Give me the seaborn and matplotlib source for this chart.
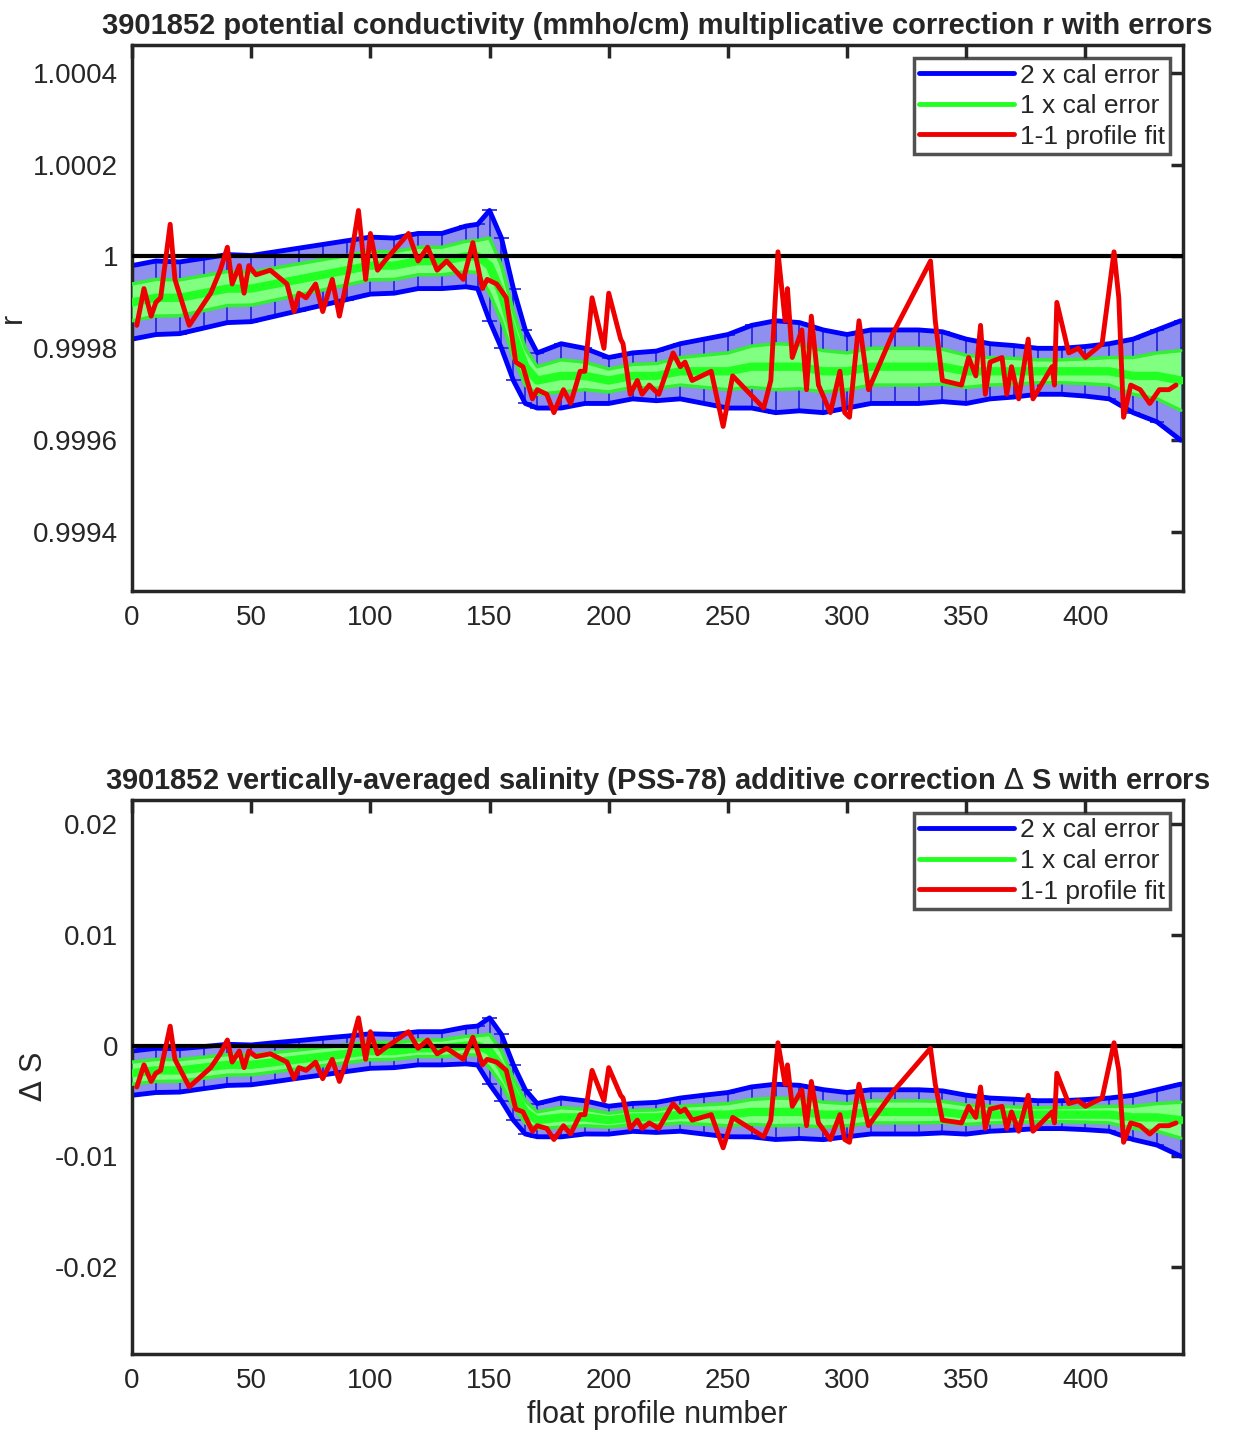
import numpy as np
import pandas as pd
import seaborn as sns
import matplotlib
matplotlib.use("Agg")
import matplotlib.pyplot as plt
from matplotlib.lines import Line2D

prof_fit = [2,5,8,10,12,16,18,24,33,37,40,42,45,47,49,52,58,65,68,70,73,77,80,84,87,91,95,98,100,103,106,111,116,120,124,128,132,139,143,147,149,153,157,161,164,168,170,174,177,181,184,188,190,193,198,200,205,206,209,212,214,217,221,227,230,232,235,243,248,252,265,268,271,274,275,277,281,283,285,288,293,297,299,301,305,309,319,335,337,340,348,351,354,356,358,360,365,367,369,372,376,378,386,387,388,393,397,400,407,412,414,416,419,423,427,431,435,438]
r_fit = [.99985,.99993,.99987,.9999,.99991,1.00007,.99995,.99985,.99992,.99997,1.00002,.99994,.99998,.99992,.99998,.99996,.99997,.99994,.99988,.99992,.99991,.99994,.99988,.99995,.99987,.99997,1.0001,.99995,1.00005,.99997,.99999,1.00002,1.00005,.99999,1.00002,.99997,.99999,.99995,1.00003,.99993,.99995,.99994,.99991,.99977,.99976,.99969,.99971,.9997,.99966,.99971,.99968,.99975,.99975,.99991,.9998,.99992,.99982,.99981,.9997,.99973,.9997,.99972,.9997,.99979,.99976,.99977,.99973,.99975,.99963,.99974,.99967,.99973,1.00001,.99986,.99993,.99978,.99984,.99971,.99987,.99972,.99966,.99975,.99966,.99965,.99986,.99971,.99983,.99999,.99986,.99973,.99972,.99978,.99974,.99985,.9997,.99977,.99978,.9997,.99976,.99969,.99982,.99969,.99976,.99972,.9999,.99979,.9998,.99978,.99981,1.00001,.99991,.99965,.99972,.99971,.99968,.99971,.99971,.99972]
ds_fit = [-.00375,-.00175,-.00325,-.0025,-.00225,.00175,-.00125,-.00375,-.002,-.00075,.0005,-.0015,-.0005,-.002,-.0005,-.001,-.00075,-.0015,-.003,-.002,-.00225,-.0015,-.003,-.00125,-.00325,-.00075,.0025,-.00125,.00125,-.00075,-.00025,.0005,.00125,-.00025,.0005,-.00075,-.00025,-.00125,.00075,-.00175,-.00125,-.0015,-.00225,-.00575,-.006,-.00775,-.00725,-.0075,-.0085,-.00725,-.008,-.00625,-.00625,-.00225,-.005,-.002,-.0045,-.00475,-.0075,-.00675,-.0075,-.007,-.0075,-.00525,-.006,-.00575,-.00675,-.00625,-.00925,-.0065,-.00825,-.00675,.00025,-.0035,-.00175,-.0055,-.004,-.00725,-.00325,-.007,-.0085,-.00625,-.0085,-.00875,-.0035,-.00725,-.00425,-.00025,-.0035,-.00675,-.007,-.0055,-.0065,-.00375,-.0075,-.00575,-.0055,-.0075,-.006,-.00775,-.0045,-.00775,-.006,-.007,-.0025,-.00525,-.005,-.0055,-.00475,.00025,-.00225,-.00875,-.007,-.00725,-.008,-.00725,-.00725,-.007]

prof_cal = list(range(0, 141, 10)) + [145,150,155,160,165,170] + list(range(180, 441, 10))
r_cal = [.9999,.99991,.99991,.99992,.99993,.99993,.99994,.99995,.99996,.99997,.99998,.99998,.99999,.99999,1.0,
         1.0,.99998,.99992,.99983,.99976,.99973,
         .99974,.99974,.99973,.99974,.99974,.99975,.99975,.99975,.99976,.99976,.99976,.99975,.99975,.99976,.99976,.99976,.99976,.99975,.99975,.99975,.99975,.99975,.99975,.99975,.99974,.99974,.99973]
r_err = [.00004,.00004,.000039,.000038,.000037,.000036,.000035,.000034,.000033,.000032,.000031,.00003,.00003,.00003,.000033,
         .000035,.00006,.00006,.00005,.00004,.00003,
         .000035,.00003,.000025,.000025,.000027,.00003,.000035,.00004,.000045,.00005,.000048,.000045,.00004,.00004,.00004,.00004,.000038,.000035,.00003,.000028,.000025,.000025,.000027,.00003,.00004,.00005,.000065]
ds_cal = [-.0025,-.00225,-.00225,-.002,-.00175,-.00175,-.0015,-.00125,-.001,-.00075,-.0005,-.0005,-.00025,-.00025,0,
          0,-.0005,-.002,-.00425,-.006,-.00675,
          -.0065,-.0065,-.00675,-.0065,-.0065,-.00625,-.00625,-.00625,-.006,-.006,-.006,-.00625,-.00625,-.006,-.006,-.006,-.006,-.00625,-.00625,-.00625,-.00625,-.00625,-.00625,-.00625,-.0065,-.0065,-.00675]
ds_err = [.001,.001,.00098,.00095,.00093,.0009,.00088,.00085,.00083,.0008,.00078,.00075,.00075,.00075,.00083,
          .00088,.0015,.0015,.00125,.001,.00075,
          .00088,.00075,.00063,.00063,.00068,.00075,.00088,.001,.00113,.00125,.0012,.00113,.001,.001,.001,.001,.00095,.00088,.00075,.0007,.00063,.00063,.00068,.00075,.001,.00125,.00163]

titles = ["3901852 potential conductivity (mmho/cm) multiplicative correction r with errors",
          "3901852 vertically-averaged salinity (PSS-78) additive correction $\\Delta$ S with errors"]
legend_labels = ["2 x cal error", "1 x cal error", "1-1 profile fit"]

sns.set_theme(style="white")
plt.rcParams['font.family'] = ['Liberation Sans', 'DejaVu Sans']
plt.rcParams['mathtext.fontset'] = 'dejavusans'

fig = plt.figure(figsize=(12.6, 14.35), dpi=100)
ax1 = fig.add_axes([0.1048, 0.5882, 0.8342, 0.3804])
ax2 = fig.add_axes([0.1048, 0.0564, 0.8342, 0.3861])

def panel(ax, cal, err, fit, ylim, yticks, yticklabels, ylabel, title, ref):
    cal = np.array(cal); err = np.array(err); x = np.array(prof_cal)
    ax.fill_between(x, cal - 2*err, cal + 2*err, color='#8f8fef', lw=0, zorder=1)
    ax.vlines(x, cal - 2*err, cal + 2*err, color='#2020e0', lw=1.2, zorder=2)
    ax.hlines(cal - 2*err, x - 3, x + 3, color='#2020e0', lw=1.2, zorder=2)
    ax.hlines(cal + 2*err, x - 3, x + 3, color='#2020e0', lw=1.2, zorder=2)
    ax.plot(x, cal + 2*err, color='#0000ff', lw=3.5, zorder=2)
    ax.plot(x, cal - 2*err, color='#0000ff', lw=3.5, zorder=2)
    ax.fill_between(x, cal - err, cal + err, color='#80ff80', lw=0, zorder=3)
    ax.plot(x, cal + err, color='#33ee33', lw=2.5, zorder=3)
    ax.plot(x, cal - err, color='#33ee33', lw=2.5, zorder=3)
    ax.plot(x, cal, color='#22ff22', lw=6, zorder=3)
    ax.axhline(ref, color='black', lw=3, zorder=4)
    df = pd.DataFrame({"p": prof_fit, "v": fit})
    sns.lineplot(data=df, x="p", y="v", ax=ax, color='#ee0000', lw=3.5, zorder=5, sort=False)
    ax.set_xlim(0, 441)
    ax.set_ylim(*ylim)
    ax.set_xticks(range(0, 401, 50))
    ax.set_xticklabels([str(v) for v in range(0, 401, 50)], fontsize=20)
    ax.set_yticks(yticks)
    ax.set_yticklabels(yticklabels, fontsize=20)
    ax.set_ylabel(ylabel, fontsize=22)
    ax.set_xlabel("")
    ax.set_title(title, fontsize=21, fontweight='bold', pad=8, loc='center')
    ax.tick_params(direction='in', length=9, width=2.5, top=True, right=True, colors='#262626', labelcolor='#262626', pad=10)
    for s in ax.spines.values():
        s.set_linewidth(2.5); s.set_color('#262626')
    handles = [Line2D([], [], color='#0000ff', lw=3.5), Line2D([], [], color='#22ff22', lw=3.5), Line2D([], [], color='#ee0000', lw=3.5)]
    leg = ax.legend(handles, legend_labels, loc='upper right', fontsize=19, frameon=True, fancybox=False,
                    handlelength=3.6, handletextpad=0.2, borderpad=0.2, labelspacing=0.25, borderaxespad=0.5)
    leg.get_frame().set_edgecolor('#262626'); leg.get_frame().set_linewidth(2.5)

panel(ax1, r_cal, r_err, r_fit, (0.999272, 1.00046), [0.9994, 0.9996, 0.9998, 1.0, 1.0002, 1.0004],
      ["0.9994", "0.9996", "0.9998", "1", "1.0002", "1.0004"], "r", titles[0], 1.0)
panel(ax2, ds_cal, ds_err, ds_fit, (-0.0279, 0.0222), [-0.02, -0.01, 0, 0.01, 0.02],
      ["-0.02", "-0.01", "0", "0.01", "0.02"], "$\\Delta$ S", titles[1], 0.0)
ax2.set_xlabel("float profile number", fontsize=22)

fig.savefig("out.png", dpi=100)
